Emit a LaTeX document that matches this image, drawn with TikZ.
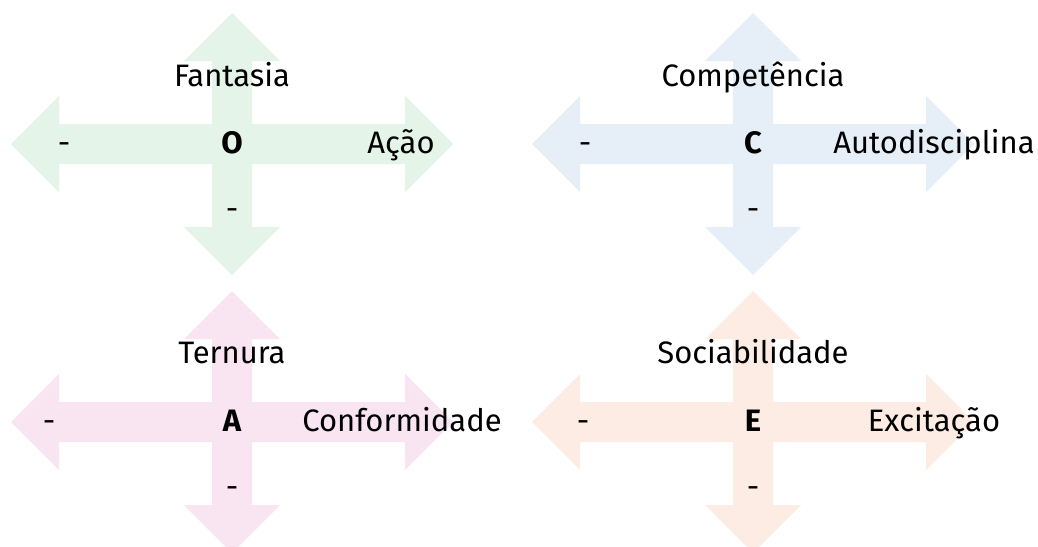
\documentclass[tikz,border=0pt]{standalone}
\usepackage{fontspec}
\setmainfont{Fira Sans}
\usetikzlibrary{positioning}
\definecolor{openColor}{RGB}{229,244,233}
\definecolor{consColor}{RGB}{230,238,247}
\definecolor{agreeColor}{RGB}{249,228,242}
\definecolor{extraColor}{RGB}{253,236,228}
% four-headed arrow around a centre
\newcommand{\crossArrow}[2]{%
  \fill[#2, shift={#1}] (221,0) -- (173,48) -- (173,20) -- (20,20) -- (20,83)
    -- (48,83) -- (0,131) -- (-48,83) -- (-20,83) -- (-20,20) -- (-173,20)
    -- (-173,48) -- (-221,0) -- (-173,-48) -- (-173,-20) -- (-20,-20)
    -- (-20,-83) -- (-48,-83) -- (0,-131) -- (48,-83) -- (20,-83)
    -- (20,-20) -- (173,-20) -- (173,-48) -- cycle;}

\begin{document}
\begin{tikzpicture}[x=1pt, y=-1pt]

          \tikzstyle{traitText} = [font=\fontsize{31}{36}\selectfont, inner sep=0pt, anchor=base];
          \tikzstyle{letterText} = [font=\fontsize{31}{36}\selectfont\bfseries, inner sep=0pt, anchor=base];

          \fill[white] (0,0) rectangle (1038,546);
          \clip (0,0) rectangle (1038,546);

          \crossArrow{(232,144)}{openColor}
          \crossArrow{(753,144)}{consColor}
          \crossArrow{(232,422)}{agreeColor}
          \crossArrow{(753,422)}{extraColor}

          % O
          \node[letterText] (o) at (232,153) {O};
          \node[traitText] (fantasia) at (232,86) {Fantasia};
          \node[traitText] (acao) at (401,153) {Ação};
          \node[traitText] (oLeft) at (64,153) {-};
          \node[traitText] (oDown) at (232,219) {-};

          % C
          \node[letterText] (c) at (753,153) {C};
          \node[traitText] (competencia) at (753,86) {Competência};
          \node[traitText] (autodisciplina) at (934,153) {Autodisciplina};
          \node[traitText] (cLeft) at (585,153) {-};
          \node[traitText] (cDown) at (753,219) {-};

          % A
          \node[letterText] (a) at (232,431) {A};
          \node[traitText] (ternura) at (232,363) {Ternura};
          \node[traitText] (conformidade) at (402,431) {Conformidade};
          \node[traitText] (aLeft) at (49,431) {-};
          \node[traitText] (aDown) at (232,497) {-};

          % E
          \node[letterText] (e) at (753,431) {E};
          \node[traitText] (sociabilidade) at (753,363) {Sociabilidade};
          \node[traitText] (excitacao) at (934,431) {Excitação};
          \node[traitText] (eLeft) at (583,431) {-};
          \node[traitText] (eDown) at (753,497) {-};
        \end{tikzpicture}
\end{document}
